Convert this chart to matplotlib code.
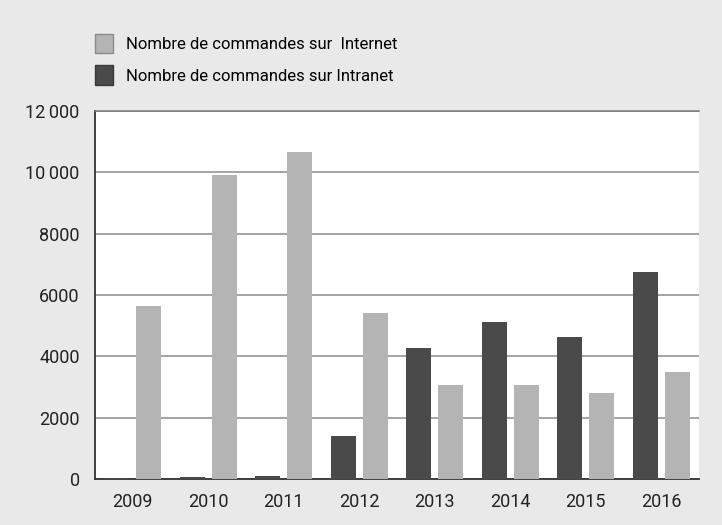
import numpy as np
import matplotlib.pyplot as plt
from matplotlib.patches import Patch

plt.rcParams['font.family'] = ['Roboto', 'DejaVu Sans']

years = ['2009', '2010', '2011', '2012', '2013', '2014', '2015', '2016']
internet = [5650, 9920, 10650, 5410, 3075, 3075, 2800, 3480]
intranet = [20, 70, 110, 1410, 4280, 5110, 4640, 6750]
yticks = [0, 2000, 4000, 6000, 8000, 10000, 12000]
ytick_labels = ['0', '2000', '4000', '6000', '8000', '10\u2009000', '12\u2009000']

light = '#b4b4b4'
dark = '#4a4a4a'
bg = '#e9e9e9'

fig = plt.figure(figsize=(7.22, 5.25), dpi=100, facecolor=bg)
ax = fig.add_axes([95 / 722, 1 - 479 / 525, 604 / 722, 368 / 525])
ax.set_facecolor('white')

x = np.arange(len(years))
w = 0.33
ax.bar(x - 0.21, intranet, w, color=dark, zorder=3)
ax.bar(x + 0.21, internet, w, color=light, zorder=3)

ax.set_xlim(-0.5, len(years) - 0.5)
ax.set_ylim(0, 12000)
ax.set_yticks(yticks)
ax.set_yticklabels(ytick_labels)
ax.set_xticks(x)
ax.set_xticklabels(years)
ax.tick_params(axis='both', length=0, labelsize=13, colors='#222222')
ax.tick_params(axis='y', pad=11)
ax.tick_params(axis='x', pad=10)

# horizontal grid only, no right border
ax.yaxis.grid(True, color='#8c8c8c', linewidth=1.1, zorder=1)
ax.spines['right'].set_visible(False)
ax.spines['top'].set_color('#7a7a7a')
ax.spines['top'].set_linewidth(1.1)
for side in ['left', 'bottom']:
    ax.spines[side].set_color('#333333')
    ax.spines[side].set_linewidth(1.3)

handles = [Patch(facecolor=light, edgecolor='#8a8a8a'),
           Patch(facecolor=dark, edgecolor='#3a3a3a')]
labels = ['Nombre de commandes sur  Internet', 'Nombre de commandes sur Intranet']
fig.legend(handles, labels, loc='upper left', bbox_to_anchor=(88 / 722, 1 - 27 / 525),
           frameon=False, fontsize=12, handlelength=1.1, handleheight=1.4,
           handletextpad=0.75, labelspacing=0.75, borderaxespad=0)

fig.savefig('out.png', dpi=100, facecolor=bg)
